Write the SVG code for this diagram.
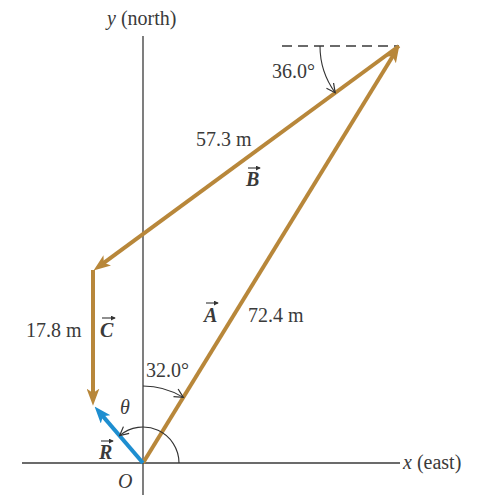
<svg xmlns="http://www.w3.org/2000/svg" width="479" height="495" viewBox="0 0 479 495">
<style>
.axis{stroke:#3a3a3a;stroke-width:1.3;fill:none}
.vec{stroke:#B8873A;stroke-width:4;fill:none}
.res{stroke:#1E8ED0;stroke-width:4;fill:none}
.arc{stroke:#333;stroke-width:1.1;fill:none}
.t{font-family:"Liberation Serif",serif;font-size:20px;fill:#3a3a3a}
.i{font-style:italic}
.b{font-weight:bold;font-style:italic}
.ov{stroke:#333;stroke-width:1.1;fill:none}
</style>
<defs>
<marker id="ag" viewBox="0 0 16 12" refX="6" refY="6" markerWidth="17" markerHeight="13" markerUnits="userSpaceOnUse" orient="auto">
<path d="M0,0 L16,6 L0,12 L4,6 Z" fill="#B8873A"/>
</marker>
<marker id="ab" viewBox="0 0 16 12" refX="6" refY="6" markerWidth="17" markerHeight="13" markerUnits="userSpaceOnUse" orient="auto">
<path d="M0,0 L16,6 L0,12 L4,6 Z" fill="#1E8ED0"/>
</marker>
<marker id="ak" viewBox="0 0 10 10" refX="9" refY="5" markerWidth="11" markerHeight="11" markerUnits="userSpaceOnUse" orient="auto">
<path d="M1,1 L9,5 L1,9" fill="none" stroke="#333" stroke-width="1.1"/>
</marker>
<marker id="ov" viewBox="0 0 6 6" refX="5" refY="3" markerWidth="5" markerHeight="5" markerUnits="userSpaceOnUse" orient="auto">
<path d="M0,0 L6,3 L0,6 Z" fill="#333"/>
</marker>
</defs>
<g id="axes">
<line class="axis" x1="143" y1="36" x2="143" y2="495"/>
<line class="axis" x1="22" y1="463" x2="400" y2="463"/>
<text class="t" x="107" y="25"><tspan class="i">y</tspan> (north)</text>
<text class="t" x="403" y="469"><tspan class="i">x</tspan> (east)</text>
<text class="t i" x="118" y="488">O</text>
</g>
<g id="connectors">
<line class="axis" x1="282" y1="46" x2="399" y2="46" stroke-dasharray="10,6"/>
<line id="vecA" class="vec" x1="143" y1="463" x2="393.8" y2="54.5" marker-end="url(#ag)"/>
<line id="vecB" class="vec" x1="399" y1="46" x2="102.1" y2="264.1" marker-end="url(#ag)"/>
<line id="vecC" class="vec" x1="93" y1="270" x2="93" y2="395" marker-end="url(#ag)"/>
<line id="vecR" class="res" x1="143" y1="463" x2="101.5" y2="414.6" marker-end="url(#ab)"/>
<path class="arc" d="M320,46 A79,79 0 0 0 335.2,92.7" marker-end="url(#ak)"/>
<path class="arc" d="M143,386 A77,77 0 0 1 183.3,397.4" marker-end="url(#ak)"/>
<path class="arc" d="M179,463 A36,36 0 0 0 119.6,435.7" marker-end="url(#ak)"/>
</g>
<g id="labelA">
<text class="t b" x="204" y="322">A</text>
<line class="ov" x1="206" y1="303" x2="218" y2="303" marker-end="url(#ov)"/>
<text class="t" x="248" y="322">72.4 m</text>
<text class="t" x="146" y="377">32.0°</text>
</g>
<g id="labelB">
<text class="t" x="196" y="146">57.3 m</text>
<text class="t b" x="246" y="186">B</text>
<line class="ov" x1="248" y1="168" x2="260" y2="168" marker-end="url(#ov)"/>
<text class="t" x="272" y="78">36.0°</text>
</g>
<g id="labelC">
<text class="t" x="26" y="337">17.8 m</text>
<text class="t b" x="100" y="337">C</text>
<line class="ov" x1="102" y1="318" x2="115" y2="318" marker-end="url(#ov)"/>
</g>
<g id="labelR">
<text class="t b" x="99" y="459">R</text>
<line class="ov" x1="101" y1="441" x2="113" y2="441" marker-end="url(#ov)"/>
<text class="t i" x="120" y="414">θ</text>
</g>
</svg>
